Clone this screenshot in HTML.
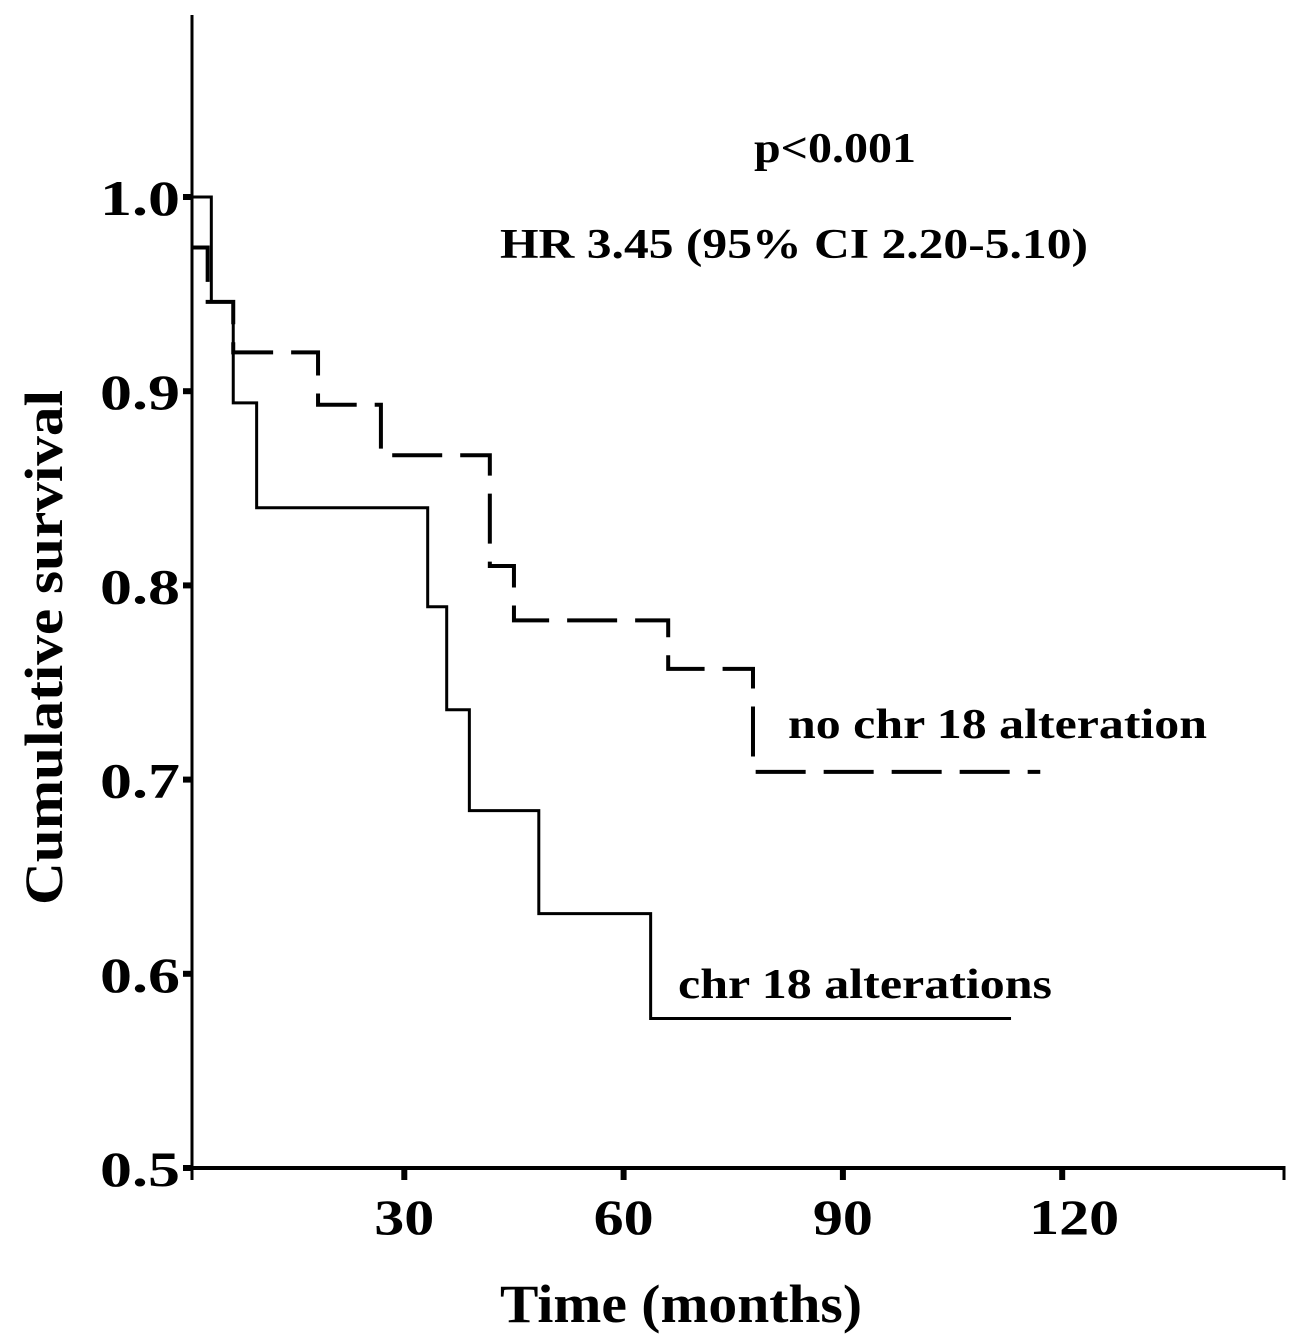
<!DOCTYPE html>
<html><head><meta charset="utf-8"><style>
html,body{margin:0;padding:0;background:#fff}
svg{display:block;font-family:"Liberation Serif",serif;font-weight:bold}
</style></head><body>
<svg id="chart" width="1296" height="1338" viewBox="0 0 1296 1338" xmlns="http://www.w3.org/2000/svg">
<g id="axes"></g>
<g id="series"></g>
<text x="754" y="162" font-size="42" textLength="162" lengthAdjust="spacingAndGlyphs">p&lt;0.001</text>
<text x="500" y="258" font-size="42" textLength="588" lengthAdjust="spacingAndGlyphs">HR 3.45 (95% CI 2.20-5.10)</text>
<text x="788" y="738" font-size="42" textLength="419" lengthAdjust="spacingAndGlyphs">no chr 18 alteration</text>
<text x="678" y="998" font-size="42" textLength="374" lengthAdjust="spacingAndGlyphs">chr 18 alterations</text>
<text x="500" y="1322" font-size="54" textLength="362" lengthAdjust="spacingAndGlyphs">Time (months)</text>
<text transform="translate(62,905) rotate(-90)" font-size="54" textLength="515" lengthAdjust="spacingAndGlyphs">Cumulative survival</text>
</svg>
<script>
const xTicks=[30,60,90,120];
const yTicks=[0.5,0.6,0.7,0.8,0.9,1.0];
const yTickLabels=["0.5","0.6","0.7","0.8","0.9","1.0"];
const solidTimes=[0,3.6,6.6,9.8,33.2,35.8,38.9,48.4,63.7,113];
const solidSurv=[1.0,0.946,0.894,0.84,0.789,0.736,0.684,0.631,0.577,0.577];
const dashTimes=[0,3.1,6.6,18.2,26.8,41.7,45,66.1,77.7,117];
const dashSurv=[0.974,0.946,0.92,0.893,0.867,0.81,0.782,0.757,0.704,0.704];
const NS="http://www.w3.org/2000/svg";
const X=t=>185+7.31*t;
const Y=s=>1168-(s-0.5)*1942;
const axes=document.getElementById('axes'),series=document.getElementById('series');
function mk(tag,attrs,parent){const e=document.createElementNS(NS,tag);for(const k in attrs)e.setAttribute(k,attrs[k]);parent.appendChild(e);return e;}
let l=mk('line',{x1:192,y1:15,x2:192,y2:1171,stroke:'#000','stroke-width':3},axes);


l=mk('line',{x1:190,y1:1168,x2:1284,y2:1168,stroke:'#000','stroke-width':4},axes);


[192,1284].forEach(x=>{const t=mk('line',{x1:x,y1:1166,x2:x,y2:1180,stroke:'#000','stroke-width':3},axes);

});
xTicks.forEach(v=>{const t=mk('line',{x1:X(v),y1:1166,x2:X(v),y2:1180,stroke:'#000','stroke-width':6},axes);


const w=String(v).length*30;
const tx=mk('text',{x:X(v)-w/2+(v>=100?12:0),y:1234,'font-size':50,textLength:w,lengthAdjust:'spacingAndGlyphs'},axes);tx.textContent=v;

});
yTicks.forEach((v,i)=>{const t=mk('line',{x1:183,y1:Y(v),x2:192,y2:Y(v),stroke:'#000','stroke-width':6},axes);


const tx=mk('text',{x:100,y:Y(v)+18,'font-size':50,textLength:80,lengthAdjust:'spacingAndGlyphs'},axes);tx.textContent=yTickLabels[i];

});
function stepPath(ts,ss){let d='M'+192+' '+Y(ss[0]);for(let i=1;i<ts.length;i++){d+=' H'+X(ts[i])+(i<ts.length-1?' V'+Y(ss[i]):'');}return d;}
let p=mk('path',{d:stepPath(solidTimes,solidSurv),fill:'none',stroke:'#000','stroke-width':3},series);


p=mk('path',{d:stepPath(dashTimes,dashSurv),fill:'none',stroke:'#000','stroke-width':4,'stroke-dasharray':'50 18'},series);


</script>
</body></html>
